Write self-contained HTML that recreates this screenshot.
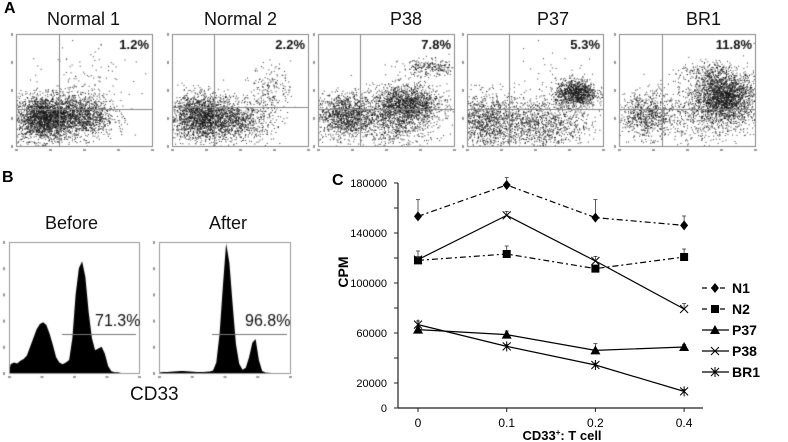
<!DOCTYPE html>
<html><head><meta charset="utf-8">
<style>
body{margin:0;background:#fff;width:788px;height:442px;overflow:hidden;font-family:"Liberation Sans",Arial,sans-serif}
#wrap{position:relative;width:788px;height:442px}
.t{position:absolute;font-size:17px;color:#111;white-space:nowrap}
.pl{position:absolute;font-weight:bold;font-size:16px}
</style></head><body>
<div id="wrap">
<canvas id="cv" width="788" height="442" style="position:absolute;left:0;top:0"></canvas>
<div class="pl" style="left:4px;top:0px">A</div>
<div class="pl" style="left:2px;top:169px">B</div>
<div class="pl" style="left:332px;top:172px">C</div>
<div class="t" style="left:47px;top:9px;font-size:18px">Normal 1</div>
<div class="t" style="left:204px;top:9px;font-size:18px">Normal 2</div>
<div class="t" style="left:390px;top:9px;font-size:18px">P38</div>
<div class="t" style="left:537px;top:9px;font-size:18px">P37</div>
<div class="t" style="left:686px;top:9px;font-size:18px">BR1</div>
<div class="t" style="left:45px;top:213px;font-size:18px">Before</div>
<div class="t" style="left:209px;top:213px;font-size:18px">After</div>
<div class="t" style="left:130px;top:384px;font-size:19px">CD33</div>
<svg id="sv" width="788" height="442" style="position:absolute;left:0;top:0"></svg>
</div>
<script>
// ---- Panel C data ----
const categories=["0","0.1","0.2","0.4"];
const seriesNames=["N1","N2","P37","P38","BR1"];
const n1=[153300,178400,152300,146100];
const n1Err=[13400,5900,14400,7500];
const n2=[118100,123200,111500,120800];
const n2Err=[7500,6400,1500,6400];
const p37=[62700,58700,46100,48800];
const p37Err=[2000,2900,5400,2100];
const p38=[118700,154100,117600,79200];
const p38Err=[1500,3200,3700,4300];
const br1=[66700,49300,34400,13300];
const br1Err=[2900,1500,1500,1500];
const yTicks=[0,20000,60000,100000,140000,180000];
// ---- Panel B data (40 log bins, 10^0..10^4) ----
const beforeBins=[10,12,11,14,16,20,30,40,50,56,58,55,45,32,18,12,10,12,15,40,90,120,128,110,70,40,26,28,30,22,8,2,1,1,0,0,0,0,0,0];
const afterBins=[3,4,4,5,6,7,8,8,7,6,5,4,4,4,5,6,10,40,150,330,495,420,260,110,35,12,20,60,115,130,50,8,2,1,0,0,0,0,0,0];

const NS="http://www.w3.org/2000/svg";
const sv=document.getElementById('sv');
function mk(tag,attrs,parent){const e=document.createElementNS(NS,tag);for(const k in attrs)e.setAttribute(k,attrs[k]);(parent||sv).appendChild(e);return e;}
const X0=418,XSTEP=88.7,Y0=408,YPX=225/180000;
const xs=i=>X0+i*XSTEP;
const ys=v=>Y0-v*YPX;
let ax=mk('line',{x1:398,y1:183,x2:398,y2:408,stroke:'#222','stroke-width':1.2});


ax=mk('line',{x1:398,y1:408,x2:703,y2:408,stroke:'#222','stroke-width':1.2});


for(let v=0;v<=180000;v+=20000){const l=mk('line',{x1:394,y1:ys(v),x2:398,y2:ys(v),stroke:'#222'});

}
yTicks.forEach(v=>{const t=mk('text',{x:387,y:ys(v)+4,'text-anchor':'end','font-size':11,'font-family':'Liberation Sans, sans-serif'});t.textContent=v;

});
categories.forEach((c,i)=>{const l=mk('line',{x1:xs(i),y1:408,x2:xs(i),y2:412,stroke:'#222'});


const t=mk('text',{x:xs(i),y:427,'text-anchor':'middle','font-size':12,'font-family':'Liberation Sans, sans-serif'});t.textContent=c;

});
let yt=mk('text',{x:0,y:0,transform:'translate(348,272) rotate(-90)','text-anchor':'middle','font-size':14,'font-weight':'bold','font-family':'Liberation Sans, sans-serif'});yt.textContent='CPM';


let xt=mk('text',{x:562,y:440,'text-anchor':'middle','font-size':13,'font-weight':'bold','font-family':'Liberation Sans, sans-serif'});xt.innerHTML='CD33<tspan font-size="8" dy="-5">+</tspan><tspan dy="5">: T cell</tspan>';



function marker(type,x,y,g){
 if(type==='diamond')mk('polygon',{points:`${x},${y-5} ${x+4},${y} ${x},${y+5} ${x-4},${y}`,fill:'#000'},g);
 else if(type==='square')mk('rect',{x:x-4,y:y-4,width:8,height:8,fill:'#000'},g);
 else if(type==='tri')mk('polygon',{points:`${x},${y-5} ${x+5},${y+4} ${x-5},${y+4}`,fill:'#000'},g);
 else if(type==='x'){mk('path',{d:`M${x-4} ${y-4}L${x+4} ${y+4}M${x-4} ${y+4}L${x+4} ${y-4}`,stroke:'#000','stroke-width':1},g);}
 else {mk('path',{d:`M${x-4} ${y-4}L${x+4} ${y+4}M${x-4} ${y+4}L${x+4} ${y-4}M${x} ${y-5}L${x} ${y+5}`,stroke:'#000','stroke-width':1},g);}
}
const ser=[[n1,n1Err,'diamond','6,3,2,3'],[n2,n2Err,'square','6,3,2,3'],[p37,p37Err,'tri',''],[p38,p38Err,'x',''],[br1,br1Err,'star','']];
ser.forEach((s,k)=>{
 const g=mk('g',{});
 
 
 const [vals,err,m,dash]=s;
 mk('polyline',{points:vals.map((v,i)=>xs(i)+','+ys(v)).join(' '),fill:'none',stroke:'#000','stroke-width':1.2,'stroke-dasharray':dash},g);
 vals.forEach((v,i)=>{const x=xs(i);mk('line',{x1:x,y1:ys(v),x2:x,y2:ys(v+err[i]),stroke:'#333','stroke-width':0.8},g);
  mk('line',{x1:x-2,y1:ys(v+err[i]),x2:x+2,y2:ys(v+err[i]),stroke:'#333','stroke-width':0.8},g);
  marker(m,x,ys(v),g);});
 const ly=288+k*21;
 const lg=mk('g',{});
 
 
 mk('line',{x1:702,y1:ly,x2:729,y2:ly,stroke:'#000','stroke-width':1.2,'stroke-dasharray':dash?'5,4':''},lg);
 marker(m,715,ly,lg);
 const t=mk('text',{x:732,y:ly+5,'font-size':14,'font-weight':'bold','font-family':'Liberation Sans, sans-serif'},lg);t.textContent=seriesNames[k];
});

// ---- Panel A scatter (canvas) ----
const cv=document.getElementById('cv');const ctx=cv.getContext('2d');
let seed=12345;function rnd(){seed=(seed*1103515245+12345)&0x7fffffff;return seed/0x7fffffff;}
function gauss(){let u=rnd()||1e-6,v=rnd();return Math.sqrt(-2*Math.log(u))*Math.cos(2*Math.PI*v);}
const plots=[
 {x:16,y:34,v:59,h:109,pct:'1.2%',cl:[[0.8,1.0,0.45,0.4,2200],[1.9,1.1,0.5,0.4,1300],[2.0,2.3,0.7,0.6,100]]},
 {x:172,y:34,v:214,h:107,pct:'2.2%',cl:[[0.9,1.05,0.5,0.4,2000],[2.0,0.9,0.5,0.35,700],[2.9,2.1,0.3,0.4,180]]},
 {x:318,y:34,v:360,h:109,pct:'7.8%',cl:[[0.8,1.1,0.45,0.4,1300],[2.6,1.5,0.5,0.35,1500],[2.3,0.8,0.6,0.5,700],[3.3,2.8,0.45,0.15,250]]},
 {x:467,y:34,v:509,h:109,pct:'5.3%',cl:[[0.5,0.9,0.6,0.5,1200],[2.2,0.8,0.7,0.5,1000],[3.2,1.9,0.3,0.25,1000],[2.5,2.0,0.8,0.7,80]]},
 {x:619,y:34,v:662,h:109,pct:'11.8%',cl:[[0.8,1.1,0.4,0.4,700],[3.1,1.75,0.45,0.45,2200],[2.4,1.2,0.8,0.6,600],[2.6,2.6,0.4,0.2,200]]}];
const W=136,H=112;
plots.forEach(p=>{
 ctx.fillStyle='rgba(20,20,20,0.85)';
 p.cl.forEach(c=>{for(let i=0;i<c[4];i++){const lx=c[0]+gauss()*c[2],ly=c[1]+gauss()*c[3];
  const px=p.x+lx/4*W,py=p.y+H-ly/4*H;if(px<p.x||px>p.x+W||py<p.y||py>p.y+H)continue;ctx.fillRect(px,py,1,1);}});
 ctx.strokeStyle='#888';ctx.lineWidth=1;ctx.strokeRect(p.x+0.5,p.y+0.5,W,H);
 ctx.beginPath();ctx.moveTo(p.v+0.5,p.y);ctx.lineTo(p.v+0.5,p.y+H);ctx.moveTo(p.x,p.h+0.5);ctx.lineTo(p.x+W,p.h+0.5);ctx.stroke();
 ctx.fillStyle='#111';ctx.font='bold 13px "Liberation Sans", sans-serif';ctx.textAlign='right';ctx.fillText(p.pct,p.x+W-3,p.y+15);
 ctx.fillStyle='#999';for(let k=0;k<=4;k++){ctx.fillRect(p.x+k*W/4-1,p.y+H+3,3,2);ctx.fillRect(p.x-5,p.y+H-k*H/4-1,2,3);}
});
// ---- Panel B histograms ----
function hist(bins,x,y,w,h,max,pct,mx1,mx2,tx){
 ctx.fillStyle='#000';ctx.beginPath();ctx.moveTo(x,y+h);
 bins.forEach((b,i)=>{const px=x+(i+0.5)/bins.length*w;ctx.lineTo(px,y+h-b/max*h);});
 ctx.lineTo(x+w,y+h);ctx.closePath();ctx.fill();
 ctx.strokeStyle='#999';ctx.strokeRect(x+0.5,y+0.5,w,h);
 ctx.strokeStyle='#777';ctx.beginPath();ctx.moveTo(mx1,334.5);ctx.lineTo(mx2,334.5);ctx.stroke();
 ctx.fillStyle='#111';ctx.font='16px "Liberation Sans", sans-serif';ctx.textAlign='left';ctx.fillText(pct,tx,326);
 ctx.fillStyle='#999';for(let k=0;k<=4;k++)ctx.fillRect(x+k*w/4-1,y+h+3,3,2);
 for(let k=0;k<=5;k++)ctx.fillRect(x-6,y+h-k*h/5-1,2,3);
}
hist(beforeBins,9,242,130,131,150,'71.3%',62,136,95);
hist(afterBins,159,242,131,131,500,'96.8%',212,287,245);
</script>
</body></html>
